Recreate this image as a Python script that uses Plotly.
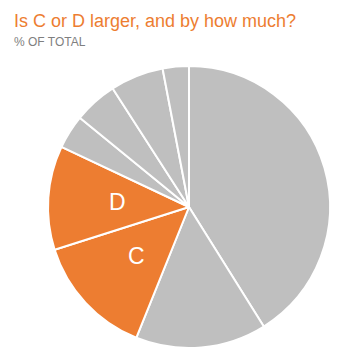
import math
import plotly.graph_objects as go

labels = ["A", "B", "C", "D", "E", "F", "G", "H"]
values = [41.1, 15.0, 14.0, 11.9, 3.9, 5.0, 6.1, 3.0]
highlight = ["C", "D"]

ORANGE = "#ED7D31"
GRAY = "#BFBFBF"
colors = [ORANGE if l in highlight else GRAY for l in labels]

W, H = 361, 360
L, R, T, B = 48, 31, 66, 12
ph = H - T - B

def py(p):
    return (H - B - p) / ph

def px(p):
    return (p - L) / (W - L - R)

fig = go.Figure(go.Pie(
    labels=labels, values=values, textinfo="none",
    marker=dict(colors=colors, line=dict(color="white", width=2)),
    sort=False, direction="clockwise", rotation=0,
    showlegend=False, hoverinfo="label+percent",
))

# labels for highlighted slices, placed at the slice's mid-angle
total = sum(values)
annotations = []
cum = 0.0
for lab, v in zip(labels, values):
    mid = (cum + v / 2) / total * 2 * math.pi
    cum += v
    if lab in highlight:
        rr = 0.5 * 0.51
        annotations.append(dict(
            text=lab, xref="paper", yref="paper",
            x=0.5 + rr * math.sin(mid), y=0.5 + rr * math.cos(mid),
            xanchor="center", yanchor="middle", showarrow=False,
            font=dict(size=23, color="white", family="Liberation Sans, Arial")))

annotations += [
    dict(text="Is C or D larger, and by how much?", xref="paper", yref="paper",
         x=px(12), y=py(21), xanchor="left", yanchor="middle", showarrow=False,
         font=dict(size=18, color=ORANGE, family="Liberation Sans, Arial")),
    dict(text="% OF TOTAL", xref="paper", yref="paper",
         x=px(12), y=py(42), xanchor="left", yanchor="middle", showarrow=False,
         font=dict(size=12, color="#7F7F7F", family="Liberation Sans, Arial")),
]

fig.update_layout(
    width=W, height=H,
    margin=dict(l=L, r=R, t=T, b=B),
    paper_bgcolor="white", plot_bgcolor="white",
    font=dict(family="Liberation Sans, Arial"),
    annotations=annotations,
)

fig.write_html("out.html", config={"displayModeBar": False},
               post_script="document.body.style.margin='0';")
